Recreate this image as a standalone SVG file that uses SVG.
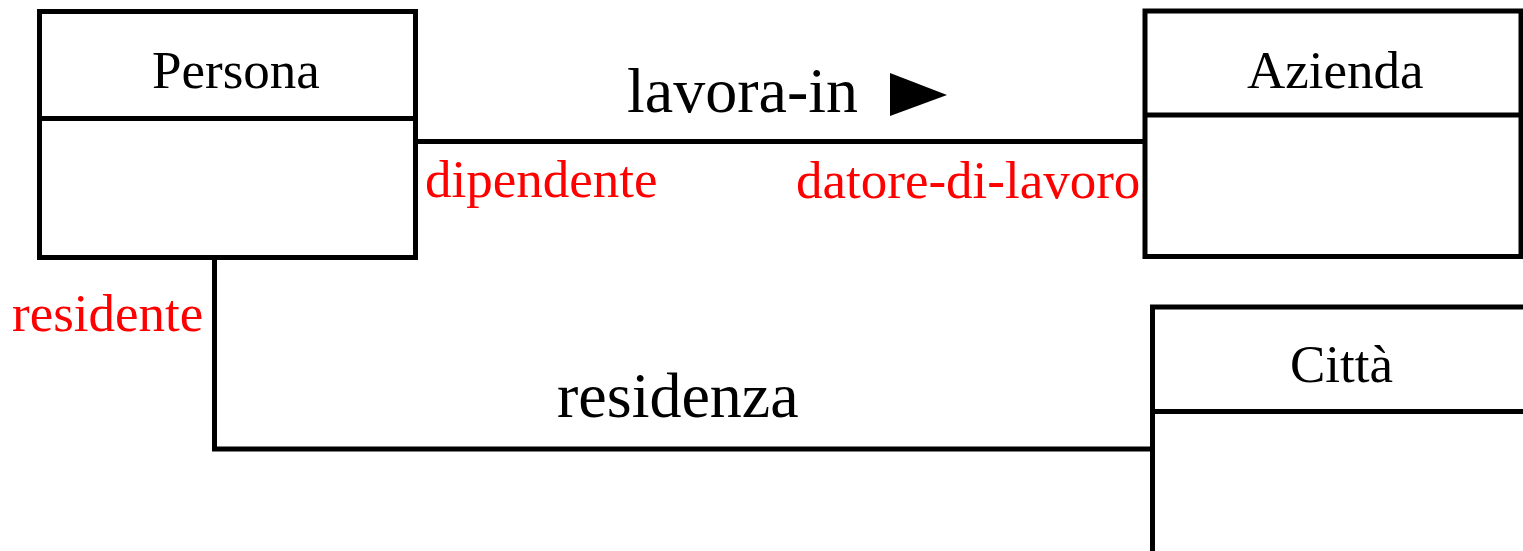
<svg xmlns="http://www.w3.org/2000/svg" width="1523" height="551" viewBox="0 0 1523 551">
<style>
.box{fill:#fff;stroke:#000;stroke-width:5}
.ln{fill:none;stroke:#000;stroke-width:5}
.nm{font-family:"Liberation Serif","Times New Roman",serif;font-size:53px;fill:#000}
.as{font-family:"Liberation Serif","Times New Roman",serif;font-size:64px;fill:#000}
.role{font-family:"Liberation Serif","Times New Roman",serif;font-size:53px;fill:#ff0000}
</style>
<rect width="1523" height="551" fill="#fff"/>
<g id="connectors">
<line class="ln" x1="415" y1="141.5" x2="1145" y2="141.5"/>
<polyline class="ln" points="214.5,258 214.5,449 1152,449"/>
<polygon points="890,73 890,116 947,95" fill="#000"/>
<text class="as" x="627" y="112">lavora-in</text>
<text class="as" x="557" y="417">residenza</text>
<text class="role" x="425" y="197">dipendente</text>
<text class="role" x="796" y="198">datore-di-lavoro</text>
<text class="role" x="12" y="331">residente</text>
</g>
<g id="persona">
<rect class="box" x="39.5" y="11.5" width="376" height="246"/>
<line class="ln" x1="39.5" y1="118.5" x2="415.5" y2="118.5"/>
<text class="nm" x="152" y="88">Persona</text>
</g>
<g id="azienda">
<rect class="box" x="1145" y="11" width="376" height="245.5"/>
<line class="ln" x1="1145" y1="115" x2="1521" y2="115"/>
<text class="nm" x="1247" y="88">Azienda</text>
</g>
<g id="citta">
<rect class="box" x="1152.5" y="307" width="400" height="300"/>
<line class="ln" x1="1152.5" y1="411.5" x2="1530" y2="411.5"/>
<text class="nm" x="1290" y="382">Città</text>
</g>
</svg>
